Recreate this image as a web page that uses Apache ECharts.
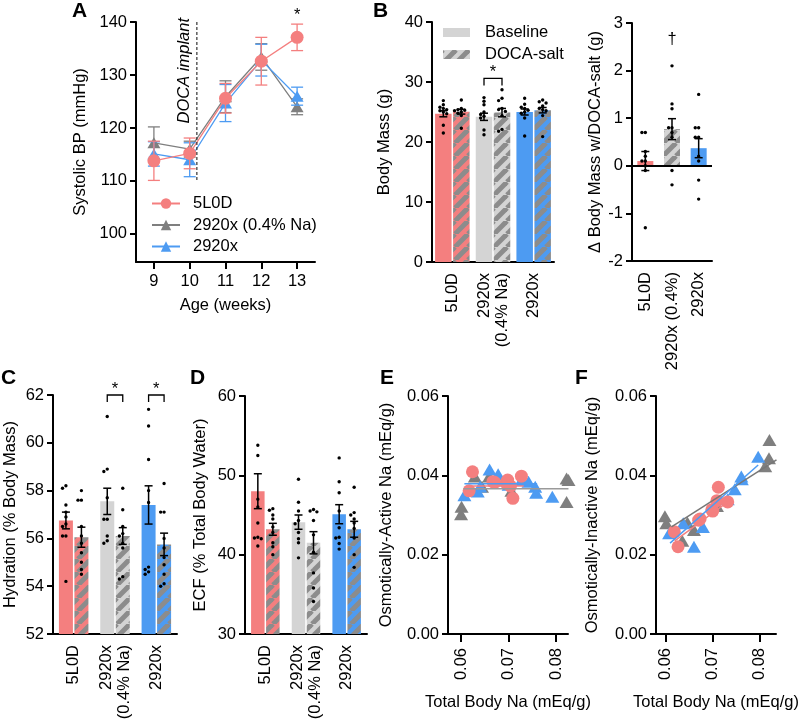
<!DOCTYPE html>
<html>
<head>
    <meta charset="UTF-8" />
    <title>DOCA-salt diets</title>
    <script src="https://cdn.jsdelivr.net/npm/echarts@6/dist/echarts.min.js"></script>
    <style>
        html, body { margin: 0; background: #fff; }
        #main { width: 800px; height: 721px; }
    </style>
</head>
<body>
<div id="main"></div>
<script type="text/javascript">
    // ---- A: systolic BP ----
    const ageWeeks = [9, 10, 11, 12, 13];
    const bp5L0D = [113.8, 115.2, 125.6, 132.6, 137.1];
    const bp5L0DErr = [3.7, 2.9, 2.8, 4.5, 2.5];
    const bpLowNa = [117.2, 116.0, 125.9, 133.4, 124.0];
    const bpLowNaErr = [3.0, 1.5, 3.0, 2.5, 1.5];
    const bp2920x = [115.1, 114.0, 124.7, 132.8, 126.0];
    const bp2920xErr = [2.3, 3.2, 3.5, 3.0, 1.7];
    const docaWeek = 10.2;

    // ---- bar panels ----
    const dietGroups = ['5L0D', '2920x\n(0.4% Na)', '2920x'];
    const dietGroupsShort = ['5L0D', '2920x (0.4%)', '2920x'];

    const massBase = [24.7, 24.2, 25.0];
    const massBaseErr = [0.5, 0.6, 0.5];
    const massDoca = [25.05, 24.9, 25.3];
    const massDocaErr = [0.4, 0.7, 0.45];
    const massBaseDots = [
        [26.9, 26.2, 25.8, 25.6, 25.4, 25.2, 25.0, 24.7, 22.8, 21.5],
        [27.4, 26.8, 26.2, 25.0, 24.6, 24.3, 24.0, 22.0, 21.2],
        [27.3, 26.3, 25.8, 25.6, 25.3, 25.0, 24.8, 24.0, 21.0]
    ];
    const massDocaDots = [
        [27.0, 25.6, 25.4, 25.3, 25.2, 25.0, 24.8, 24.4, 22.3],
        [28.7, 27.3, 26.9, 25.6, 25.4, 25.1, 24.4, 22.1, 21.8],
        [27.0, 26.7, 26.5, 26.0, 25.6, 25.4, 25.2, 24.4, 20.9]
    ];

    const deltaMass = [0.10, 0.77, 0.37];
    const deltaMassErr = [0.2, 0.22, 0.2];
    const deltaMassDots = [
        [0.7, 0.7, 0.3, 0.2, 0.1, 0.1, 0.0, -0.1, -1.3],
        [2.1, 1.3, 1.2, 0.8, 0.8, 0.7, 0.6, -0.1, -0.4],
        [1.5, 0.8, 0.8, 0.6, 0.6, 0.2, 0.1, -0.3, -0.7]
    ];

    const hydBase = [56.75, 57.55, 57.4];
    const hydBaseErr = [0.35, 0.55, 0.8];
    const hydDoca = [56.05, 56.1, 55.75];
    const hydDocaErr = [0.42, 0.35, 0.47];
    const hydBaseDots = [
        [58.2, 58.1, 57.4, 57.1, 56.9, 56.6, 56.5, 56.1, 56.1, 54.2],
        [61.1, 58.9, 58.8, 57.7, 56.8, 56.8, 56.1, 55.9, 55.8],
        [61.4, 60.7, 59.3, 58.0, 57.5, 54.8, 54.7, 54.6, 54.5]
    ];
    const hydDocaDots = [
        [58.0, 57.6, 57.6, 56.5, 56.1, 55.8, 55.4, 55.0, 54.7, 54.5],
        [58.1, 57.2, 56.5, 56.2, 56.1, 55.8, 55.6, 54.4, 54.3],
        [58.3, 57.1, 57.1, 56.0, 55.6, 55.2, 54.9, 54.5, 54.1, 54.0]
    ];

    const ecfBase = [48.0, 44.1, 45.1];
    const ecfBaseErr = [2.2, 0.9, 1.2];
    const ecfDoca = [43.2, 41.5, 43.2];
    const ecfDocaErr = [0.75, 1.4, 1.0];
    const ecfBaseDots = [
        [53.8, 52.5, 47.0, 46.0, 44.0, 42.2, 42.1, 42.0, 41.1],
        [49.5, 46.6, 45.5, 44.3, 43.9, 42.8, 42.0, 41.5, 39.6],
        [52.2, 49.2, 47.8, 45.5, 43.4, 42.2, 42.1, 41.4, 40.7]
    ];
    const ecfDocaDots = [
        [45.8, 45.6, 45.0, 44.5, 43.5, 42.8, 41.5, 41.0, 40.0],
        [45.7, 45.5, 45.4, 44.3, 42.5, 40.3, 37.7, 35.8, 34.1],
        [48.5, 45.3, 45.0, 44.5, 44.0, 43.3, 42.1, 40.0, 38.4]
    ];

    // ---- E: osmotically-active Na vs total body Na ----
    const activeGrayX = [0.0600, 0.0601, 0.0629, 0.0644, 0.0659, 0.0706, 0.0822, 0.0826, 0.0822];
    const activeGrayY = [0.0302, 0.0321, 0.0397, 0.0371, 0.0397, 0.0361, 0.0392, 0.0388, 0.0333];
    const activeBlueX = [0.0607, 0.0635, 0.0640, 0.0660, 0.0678, 0.0700, 0.0727, 0.0742, 0.0756, 0.0758, 0.0792];
    const activeBlueY = [0.0350, 0.0359, 0.0372, 0.0415, 0.0403, 0.0376, 0.0388, 0.0384, 0.0371, 0.0356, 0.0346];
    const activePinkX = [0.0617, 0.0624, 0.0667, 0.0671, 0.0695, 0.0698, 0.0704, 0.0709, 0.0727];
    const activePinkY = [0.0361, 0.0409, 0.0384, 0.0382, 0.0380, 0.0388, 0.0373, 0.0342, 0.0398];
    const activeGrayFitX = [0.0605, 0.0826], activeGrayFitY = [0.0366, 0.0366];
    const activeBlueFitX = [0.0607, 0.0760], activeBlueFitY = [0.0379, 0.0379];
    const activePinkFitX = [0.0617, 0.0732], activePinkFitY = [0.0373, 0.0373];

    // ---- F: osmotically-inactive Na vs total body Na ----
    const inactiveGrayX = [0.0598, 0.0601, 0.0635, 0.0646, 0.0660, 0.0709, 0.0812, 0.0820, 0.0821];
    const inactiveGrayY = [0.0297, 0.0279, 0.0235, 0.0281, 0.0262, 0.0323, 0.0423, 0.0443, 0.0489];
    const inactiveBlueX = [0.0607, 0.0637, 0.0660, 0.0679, 0.0732, 0.0747, 0.0761, 0.0762, 0.0797];
    const inactiveBlueY = [0.0254, 0.0279, 0.0220, 0.0270, 0.0340, 0.0365, 0.0397, 0.0390, 0.0447];
    const inactivePinkX = [0.0618, 0.0626, 0.0670, 0.0673, 0.0698, 0.0700, 0.0709, 0.0712, 0.0732];
    const inactivePinkY = [0.0258, 0.0220, 0.0287, 0.0290, 0.0313, 0.0310, 0.0336, 0.0370, 0.0333];
    const inactiveGrayFitX = [0.0612, 0.0836], inactiveGrayFitY = [0.0270, 0.0439];
    const inactiveBlueFitX = [0.0609, 0.0797], inactiveBlueFitY = [0.0229, 0.0426];
    const inactivePinkFitX = [0.0619, 0.0732], inactivePinkFitY = [0.0235, 0.0333];

    const PINK = '#F47F7F', LIGHT = '#D4D4D4', BLUE = '#4D9BF2', DARK = '#7F7F7F', STRIPE = '#8C8C8C';
    const FONT = 'Arial, "Liberation Sans", Helvetica, sans-serif';
    const FS = 16.5;

    function hatch(base) {
        let s = 13, c = document.createElement('canvas');
        c.width = s; c.height = s;
        let g = c.getContext('2d');
        g.fillStyle = base;
        g.fillRect(0, 0, s, s);
        g.strokeStyle = STRIPE;
        g.lineWidth = 5;
        for (let k = -1; k <= 1; k++) {
            g.beginPath();
            g.moveTo(k * s, s);
            g.lineTo(k * s + s, 0);
            g.stroke();
        }
        return { image: c, repeat: 'repeat' };
    }
    const baseColors = [PINK, LIGHT, BLUE];
    const docaColors = baseColors.map(hatch);

    // grid rects
    const grids = [
        { left: 136, top: 22, width: 179, height: 240 },   // A
        { left: 432, top: 22, width: 122, height: 240 },   // B left
        { left: 632, top: 23, width: 80, height: 238 },    // B right
        { left: 53, top: 395, width: 124, height: 239 },   // C
        { left: 245, top: 396, width: 122, height: 238 },  // D
        { left: 448, top: 396, width: 120, height: 238 },  // E
        { left: 656, top: 396, width: 120, height: 238 }   // F
    ];
    grids.forEach(g => { g.containLabel = false; g.outerBoundsMode = 'none'; });

    let lineCommon = { lineStyle: { color: '#000', width: 2 } };
    let labelCommon = { color: '#000', fontSize: FS, fontFamily: FONT };
    let nameCommon = { color: '#000', fontSize: FS, fontFamily: FONT };

    function yAxis(gi, min, max, interval, gap, name, extra) {
        return Object.assign({
            type: 'value', gridIndex: gi, min: min, max: max, interval: interval,
            name: name, nameLocation: 'middle', nameGap: gap, nameTextStyle: nameCommon,
            axisLine: Object.assign({ show: true }, lineCommon),
            axisTick: { show: true, length: 6, lineStyle: { color: '#000', width: 2 } },
            axisLabel: Object.assign({ margin: 9 }, labelCommon),
            splitLine: { show: false }
        }, extra || {});
    }
    function catAxis(gi, cats) {
        return {
            type: 'category', gridIndex: gi, data: cats,
            axisLine: Object.assign({ show: true, onZero: false }, lineCommon),
            axisTick: { show: false },
            axisLabel: Object.assign({ rotate: 90, margin: 11, lineHeight: 18 }, labelCommon),
            splitLine: { show: false }
        };
    }
    function naAxis(gi, min, max) {
        return {
            type: 'value', gridIndex: gi, min: min, max: max,
            name: 'Total Body Na (mEq/g)', nameLocation: 'middle', nameGap: 60, nameTextStyle: nameCommon,
            axisLine: Object.assign({ show: true, onZero: false }, lineCommon),
            axisTick: { show: true, length: 8, lineStyle: { color: '#000', width: 2 }, customValues: [0.06, 0.07, 0.08] },
            axisLabel: Object.assign({ rotate: 90, margin: 14, customValues: [0.06, 0.07, 0.08], formatter: v => v.toFixed(2) }, labelCommon),
            splitLine: { show: false }
        };
    }

    const xAxes = [
        {
            type: 'value', gridIndex: 0, min: 8.5, max: 13.5,
            name: 'Age (weeks)', nameLocation: 'middle', nameGap: 35, nameTextStyle: nameCommon,
            axisLine: Object.assign({ show: true, onZero: false }, lineCommon),
            axisTick: { show: true, length: 7, lineStyle: { color: '#000', width: 2 }, customValues: ageWeeks },
            axisLabel: Object.assign({ margin: 11, customValues: ageWeeks }, labelCommon),
            splitLine: { show: false }
        },
        catAxis(1, dietGroups),
        catAxis(2, dietGroupsShort),
        catAxis(3, dietGroups),
        catAxis(4, dietGroups),
        naAxis(5, 0.05725, 0.0825),
        naAxis(6, 0.0579, 0.0835)
    ];
    const yAxes = [
        yAxis(0, 94.7, 140, null, 47, 'Systolic BP (mmHg)', {
            axisTick: { show: true, length: 6, lineStyle: { color: '#000', width: 2 }, customValues: [100, 110, 120, 130, 140] },
            axisLabel: Object.assign({ margin: 9, customValues: [100, 110, 120, 130, 140] }, labelCommon)
        }),
        yAxis(1, 0, 40, 10, 39, 'Body Mass (g)'),
        yAxis(2, -2, 3, 1, 26, 'Δ Body Mass w/DOCA-salt (g)'),
        yAxis(3, 52, 62, 2, 34, 'Hydration (% Body Mass)'),
        yAxis(4, 30, 60, 10, 36, 'ECF (% Total Body Water)'),
        yAxis(5, 0, 0.06, 0.02, 53, 'Osmotically-Active Na (mEq/g)', {
            axisLabel: Object.assign({ margin: 9, formatter: v => v.toFixed(2) }, labelCommon)
        }),
        yAxis(6, 0, 0.06, 0.02, 55, 'Osmotically-Inactive Na (mEq/g)', {
            axisLabel: Object.assign({ margin: 9, formatter: v => v.toFixed(2) }, labelCommon)
        })
    ];

    let series = [];

    // error bars: data [x, y, err]
    function addErr(gi, pts, color, cap, offset, width, z) {
        series.push({
            type: 'custom', xAxisIndex: gi, yAxisIndex: gi, silent: true, z: z || 6,
            data: pts,
            renderItem: (params, api) => {
                let x = api.value(0), y = api.value(1), e = api.value(2);
                let top = api.coord([x, y + e]), bot = api.coord([x, y - e]);
                let cx = top[0] + offset;
                let st = { stroke: color, lineWidth: width, fill: null };
                return {
                    type: 'group', children: [
                        { type: 'line', shape: { x1: cx, y1: top[1], x2: cx, y2: bot[1] }, style: st },
                        { type: 'line', shape: { x1: cx - cap / 2, y1: top[1], x2: cx + cap / 2, y2: top[1] }, style: st },
                        { type: 'line', shape: { x1: cx - cap / 2, y1: bot[1], x2: cx + cap / 2, y2: bot[1] }, style: st }
                    ]
                };
            }
        });
    }

    // simple beeswarm offsets (px) so dots with close values sit side by side
    function swarm(vals, pxPerUnit, step) {
        let order = vals.map((v, i) => i).sort((a, b) => vals[b] - vals[a]);
        let offs = vals.map(() => 0), placed = [];
        let cands = [0, -step, step, -2 * step, 2 * step, -3 * step, 3 * step];
        order.forEach(i => {
            for (let c of cands) {
                let hit = placed.some(j => Math.abs((vals[i] - vals[j]) * pxPerUnit) < step && Math.abs(offs[j] - c) < step);
                if (!hit) { offs[i] = c; placed.push(i); return; }
            }
            placed.push(i);
        });
        return offs;
    }

    function addDots(gi, dotsByCat, offset, pxPerUnit) {
        let data = [];
        dotsByCat.forEach((vals, ci) => {
            let offs = swarm(vals, pxPerUnit, 3.4);
            vals.forEach((v, k) => data.push([ci, v, offs[k]]));
        });
        series.push({
            type: 'custom', xAxisIndex: gi, yAxisIndex: gi, silent: true, z: 7,
            data: data,
            renderItem: (params, api) => {
                let p = api.coord([api.value(0), api.value(1)]);
                return { type: 'circle', shape: { cx: p[0] + offset + api.value(2), cy: p[1], r: 1.7 }, style: { fill: '#000' } };
            }
        });
    }

    // significance star text, placed a fixed gap above a data point
    function starText(x, y, gap) {
        return { type: 'text', style: { x: x, y: y - gap, text: '*', font: FS + 'px ' + FONT, fill: '#000', align: 'center', verticalAlign: 'top' } };
    }

    // bracket + star between the two bars of a category: data [cat, yTop]
    function addBracket(gi, pts, off) {
        series.push({
            type: 'custom', xAxisIndex: gi, yAxisIndex: gi, silent: true, z: 8,
            data: pts,
            renderItem: (params, api) => {
                let p = api.coord([api.value(0), api.value(1)]);
                let x1 = p[0] - off, x2 = p[0] + off, y = p[1];
                let st = { stroke: '#000', lineWidth: 1.3, fill: null };
                return {
                    type: 'group', children: [
                        { type: 'polyline', shape: { points: [[x1, y + 7], [x1, y], [x2, y], [x2, y + 7]] }, style: st },
                        starText((x1 + x2) / 2, y, 14)
                    ]
                };
            }
        });
    }

    function addBarPanel(gi, base, baseErr, baseDots, doca, docaErr, docaDots, bw, gap) {
        let off = (bw + gap) / 2;
        let g = grids[gi], ya = yAxes[gi];
        let ppu = g.height / (ya.max - ya.min);
        series.push({
            type: 'bar', name: 'Baseline', xAxisIndex: gi, yAxisIndex: gi, barWidth: bw, barGap: (gap / bw * 100) + '%',
            itemStyle: { color: LIGHT }, z: 2,
            data: base.map((v, i) => ({ value: v, itemStyle: { color: baseColors[i] } }))
        });
        series.push({
            type: 'bar', name: 'DOCA-salt', xAxisIndex: gi, yAxisIndex: gi, barWidth: bw, barGap: (gap / bw * 100) + '%',
            itemStyle: { color: docaColors[1] }, z: 2,
            data: doca.map((v, i) => ({ value: v, itemStyle: { color: docaColors[i] } }))
        });
        addDots(gi, baseDots, -off, ppu);
        addDots(gi, docaDots, off, ppu);
        addErr(gi, base.map((v, i) => [i, v, baseErr[i]]), '#000', 8, -off, 1.5, 8);
        addErr(gi, doca.map((v, i) => [i, v, docaErr[i]]), '#000', 8, off, 1.5, 8);
        return off;
    }

    // ---- A ----
    let bpSets = [
        { name: '2920x (0.4% Na)', vals: bpLowNa, err: bpLowNaErr, color: DARK, symbol: 'triangle', z: 3 },
        { name: '2920x', vals: bp2920x, err: bp2920xErr, color: BLUE, symbol: 'triangle', z: 4 },
        { name: '5L0D', vals: bp5L0D, err: bp5L0DErr, color: PINK, symbol: 'circle', z: 5 }
    ];
    bpSets.forEach(s => {
        addErr(0, ageWeeks.map((x, i) => [x, s.vals[i], s.err[i]]), s.color, 12, 0, 1.3, s.z);
        series.push({
            type: 'line', name: s.name, xAxisIndex: 0, yAxisIndex: 0, z: s.z,
            data: ageWeeks.map((x, i) => [x, s.vals[i]]),
            symbol: s.symbol, symbolSize: s.symbol === 'circle' ? 13 : [13, 11],
            lineStyle: { color: s.color, width: 1.3 }, itemStyle: { color: s.color }
        });
    });
    // DOCA implant marker and significance star
    series.push({
        type: 'custom', xAxisIndex: 0, yAxisIndex: 0, silent: true, z: 9,
        data: [[docaWeek, 140, 110]],
        renderItem: (params, api) => {
            let p1 = api.coord([api.value(0), api.value(1)]), p2 = api.coord([api.value(0), api.value(2)]);
            return {
                type: 'group', children: [
                    { type: 'line', shape: { x1: p1[0], y1: p1[1], x2: p2[0], y2: p2[1] }, style: { stroke: '#333', lineWidth: 1.2, lineDash: [3, 2] } },
                    { type: 'text', x: p1[0] - 12, y: p1[1] - 4, rotation: Math.PI / 2,
                      style: { x: 0, y: 0, text: 'DOCA implant', font: 'italic ' + FS + 'px ' + FONT, fill: '#000', align: 'right', verticalAlign: 'middle' } }
                ]
            };
        }
    });
    series.push({
        type: 'custom', xAxisIndex: 0, yAxisIndex: 0, silent: true, z: 9,
        data: [[13, bp5L0D[4] + bp5L0DErr[4]]],
        renderItem: (params, api) => {
            let p = api.coord([api.value(0), api.value(1)]);
            return starText(p[0], p[1], 17);
        }
    });

    // ---- B left ----
    let offB = addBarPanel(1, massBase, massBaseErr, massBaseDots, massDoca, massDocaErr, massDocaDots, 16.5, 1.5);
    addBracket(1, [[1, 30.6]], offB);

    // ---- B right ----
    series.push({
        type: 'bar', name: 'delta', xAxisIndex: 2, yAxisIndex: 2, barWidth: 16, z: 2,
        data: deltaMass.map((v, i) => ({ value: v, itemStyle: { color: i === 1 ? docaColors[1] : baseColors[i] } })),
        markLine: {
            silent: true, symbol: 'none', label: { show: false },
            lineStyle: { color: '#000', width: 2, type: 'solid' },
            data: [{ yAxis: 0 }]
        }
    });
    addDots(2, deltaMassDots, 0, grids[2].height / 5);
    addErr(2, deltaMass.map((v, i) => [i, v, deltaMassErr[i]]), '#000', 8, 0, 1.5, 8);
    series.push({
        type: 'custom', xAxisIndex: 2, yAxisIndex: 2, silent: true, z: 9,
        data: [[1, 2.66]],
        renderItem: (params, api) => {
            let p = api.coord([api.value(0), api.value(1)]);
            return { type: 'text', style: { x: p[0], y: p[1], text: '†', font: FS + 'px ' + FONT, fill: '#000', align: 'center', verticalAlign: 'middle' } };
        }
    });

    // ---- C ----
    let offC = addBarPanel(3, hydBase, hydBaseErr, hydBaseDots, hydDoca, hydDocaErr, hydDocaDots, 14, 1.5);
    addBracket(3, [[1, 62], [2, 62]], offC);

    // ---- D ----
    addBarPanel(4, ecfBase, ecfBaseErr, ecfBaseDots, ecfDoca, ecfDocaErr, ecfDocaDots, 13.5, 1.5);

    // ---- E / F ----
    function addScatterPanel(gi, sets) {
        sets.forEach(s => {
            series.push({
                type: 'scatter', xAxisIndex: gi, yAxisIndex: gi, clip: false, z: s.z,
                data: s.x.map((x, i) => [x, s.y[i]]),
                symbol: s.symbol, symbolSize: s.symbol === 'circle' ? 13 : [14, 12],
                itemStyle: { color: s.color, opacity: 1 }
            });
            series.push({
                type: 'line', xAxisIndex: gi, yAxisIndex: gi, clip: false, z: 6, silent: true,
                data: s.fx.map((x, i) => [x, s.fy[i]]), symbol: 'none',
                lineStyle: { color: s.lineColor, width: 1.5 }
            });
        });
    }
    addScatterPanel(5, [
        { x: activeGrayX, y: activeGrayY, fx: activeGrayFitX, fy: activeGrayFitY, color: DARK, lineColor: '#9A9A9A', symbol: 'triangle', z: 3 },
        { x: activeBlueX, y: activeBlueY, fx: activeBlueFitX, fy: activeBlueFitY, color: BLUE, lineColor: BLUE, symbol: 'triangle', z: 4 },
        { x: activePinkX, y: activePinkY, fx: activePinkFitX, fy: activePinkFitY, color: PINK, lineColor: PINK, symbol: 'circle', z: 5 }
    ]);
    addScatterPanel(6, [
        { x: inactiveGrayX, y: inactiveGrayY, fx: inactiveGrayFitX, fy: inactiveGrayFitY, color: DARK, lineColor: '#777777', symbol: 'triangle', z: 3 },
        { x: inactiveBlueX, y: inactiveBlueY, fx: inactiveBlueFitX, fy: inactiveBlueFitY, color: BLUE, lineColor: BLUE, symbol: 'triangle', z: 4 },
        { x: inactivePinkX, y: inactivePinkY, fx: inactivePinkFitX, fy: inactivePinkFitY, color: PINK, lineColor: PINK, symbol: 'circle', z: 5 }
    ]);

    let letters = [['A', 72, 1], ['B', 373, 1], ['C', 1, 368], ['D', 190, 368], ['E', 380, 368], ['F', 575, 368]];

    let option = {
        animation: false,
        backgroundColor: '#fff',
        textStyle: { fontFamily: FONT },
        grid: grids,
        xAxis: xAxes,
        yAxis: yAxes,
        legend: [
            {
                data: ['5L0D', '2920x (0.4% Na)', '2920x'],
                orient: 'vertical', left: 146, top: 189, itemWidth: 28, itemHeight: 13, itemGap: 2.5,
                selectedMode: false,
                textStyle: { color: '#000', fontSize: FS, fontFamily: FONT, lineHeight: 19, padding: [0, 0, 0, 8] }
            },
            {
                data: ['Baseline', 'DOCA-salt'],
                orient: 'vertical', left: 438, top: 18, itemWidth: 27, itemHeight: 9, itemGap: 3,
                icon: 'rect', selectedMode: false,
                textStyle: { color: '#000', fontSize: FS, fontFamily: FONT, lineHeight: 19, padding: [0, 0, 0, 10] }
            }
        ],
        graphic: letters.map(l => ({
            type: 'text', left: l[1], top: l[2],
            style: { text: l[0], font: 'bold 21px ' + FONT, fill: '#000' }
        })),
        series: series
    };

    let chart = echarts.init(document.getElementById('main'));
    chart.setOption(option);
</script>
</body>
</html>
